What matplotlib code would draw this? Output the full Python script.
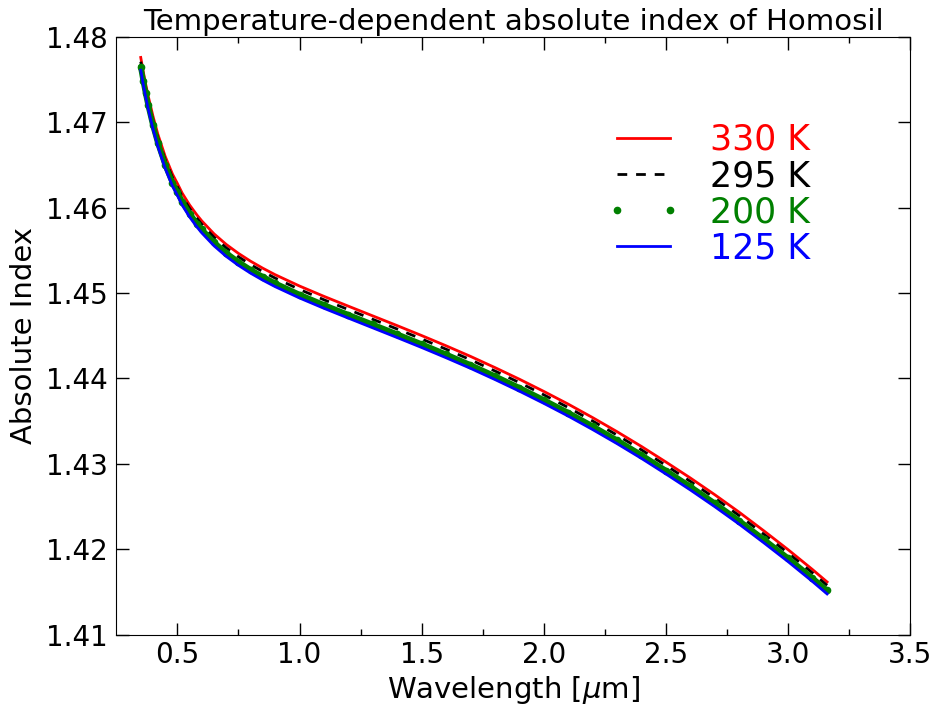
import matplotlib
matplotlib.use('Agg')
import matplotlib.pyplot as plt

# wavelengths in micron
wavelength = [0.35, 0.36, 0.37, 0.38, 0.40, 0.42, 0.45, 0.48, 0.50, 0.52,
              0.55, 0.58, 0.60, 0.65, 0.70, 0.75, 0.80, 0.85, 0.90, 1.00,
              1.10, 1.20, 1.30, 1.40, 1.50, 1.60, 1.70, 1.80, 1.90, 2.00,
              2.10, 2.20, 2.30, 2.40, 2.50, 2.60, 2.70, 2.80, 2.90, 3.00,
              3.10, 3.16]

n_330 = [1.47759, 1.47597, 1.47449, 1.47313, 1.47072, 1.46860, 1.46601, 1.46392, 1.46283, 1.46168,
         1.46031, 1.45914, 1.45844, 1.45693, 1.45569, 1.45464, 1.45372, 1.45290, 1.45215, 1.45082,
         1.44961, 1.44846, 1.44732, 1.44618, 1.44502, 1.44382, 1.44258, 1.44127, 1.43991, 1.43848,
         1.43699, 1.43541, 1.43376, 1.43203, 1.43021, 1.42834, 1.42638, 1.42433, 1.42217, 1.41995,
         1.41762, 1.41616]
n_295 = [1.47709, 1.47547, 1.47399, 1.47263, 1.47022, 1.46818, 1.46561, 1.46352, 1.46243, 1.46128,
         1.45991, 1.45874, 1.45804, 1.45653, 1.45529, 1.45424, 1.45332, 1.45250, 1.45175, 1.45042,
         1.44921, 1.44806, 1.44692, 1.44578, 1.44462, 1.44342, 1.44218, 1.44087, 1.43951, 1.43808,
         1.43659, 1.43501, 1.43336, 1.43163, 1.42981, 1.42794, 1.42598, 1.42393, 1.42177, 1.41955,
         1.41722, 1.41576]
n_200 = [1.47649, 1.47487, 1.47339, 1.47203, 1.46962, 1.46758, 1.46501, 1.46292, 1.46183, 1.46068,
         1.45931, 1.45814, 1.45744, 1.45593, 1.45469, 1.45364, 1.45272, 1.45190, 1.45115, 1.44982,
         1.44861, 1.44746, 1.44632, 1.44518, 1.44402, 1.44282, 1.44158, 1.44027, 1.43891, 1.43748,
         1.43599, 1.43441, 1.43276, 1.43103, 1.42921, 1.42734, 1.42538, 1.42333, 1.42117, 1.41895,
         1.41662, 1.41516]
n_125 = [1.47609, 1.47447, 1.47299, 1.47163, 1.46922, 1.46718, 1.46461, 1.46252, 1.46143, 1.46028,
         1.45891, 1.45774, 1.45704, 1.45553, 1.45429, 1.45324, 1.45232, 1.45150, 1.45075, 1.44942,
         1.44821, 1.44706, 1.44592, 1.44478, 1.44362, 1.44242, 1.44118, 1.43987, 1.43851, 1.43708,
         1.43559, 1.43401, 1.43236, 1.43063, 1.42881, 1.42694, 1.42498, 1.42293, 1.42077, 1.41855,
         1.41622, 1.41476]

labels = ['330 K', '295 K', '200 K', '125 K']
x_ticks = [0.5, 1.0, 1.5, 2.0, 2.5, 3.0, 3.5]
y_ticks = [1.41, 1.42, 1.43, 1.44, 1.45, 1.46, 1.47, 1.48]

fig = plt.figure(figsize=(9.35, 7.09), dpi=100)
ax = fig.add_axes([0.1244, 0.105, 0.849, 0.843])

ax.plot(wavelength, n_330, color='red', lw=2, label=labels[0])
ax.plot(wavelength, n_295, color='black', lw=2, dashes=(3.5, 3.2), label=labels[1])
# 200 K was drawn as dense dots: thick band plus dot markers
ax.plot(wavelength, n_200, color='green', lw=4, solid_capstyle='round')
ax.plot(wavelength, n_200, color='green', ls='none', marker='.', ms=9, label=labels[2])
ax.plot(wavelength, n_125, color='blue', lw=2, label=labels[3])

ax.set_xlim(0.25, 3.5)
ax.set_ylim(1.41, 1.48)
ax.set_xticks(x_ticks)
ax.set_xticks([0.75, 1.25, 1.75, 2.25, 2.75, 3.25], minor=True)
ax.set_yticks(y_ticks)
ax.tick_params(which='both', direction='in', top=True, right=True, labelsize=20)
ax.tick_params(which='major', length=9, width=1)
ax.tick_params(which='minor', length=4.5, width=1)
ax.tick_params(axis='x', pad=5)
ax.tick_params(axis='y', pad=6)

ax.set_xlabel(r'Wavelength [$\mu$m]', fontsize=21, labelpad=3)
ax.set_ylabel('Absolute Index', fontsize=21, labelpad=6)
ax.set_title('Temperature-dependent absolute index of Homosil', fontsize=21, pad=5)

leg = ax.legend(loc='upper right', bbox_to_anchor=(0.8737, 0.856), frameon=False,
                fontsize=25, numpoints=2, handlelength=2.13, handletextpad=0.84,
                labelspacing=0.06, borderaxespad=0, borderpad=0)
for txt, c in zip(leg.get_texts(), ['red', 'black', 'green', 'blue']):
    txt.set_color(c)

fig.savefig('out.png', dpi=100)
